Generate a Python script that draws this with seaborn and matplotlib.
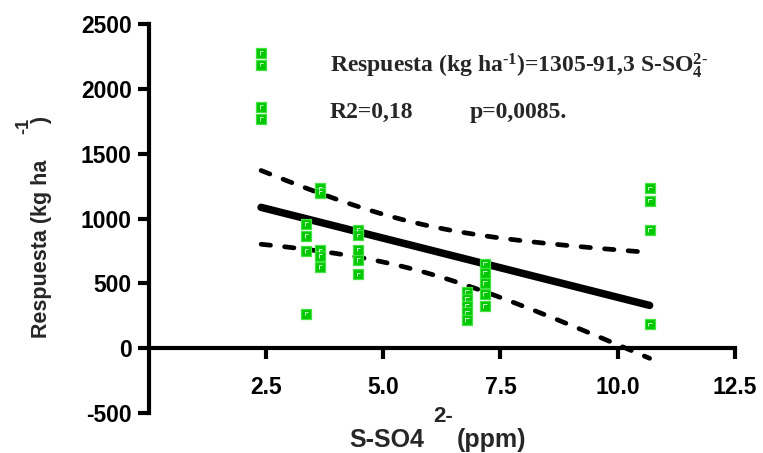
import numpy as np
import matplotlib
matplotlib.use("Agg")
import matplotlib.pyplot as plt
import seaborn as sns
from matplotlib.path import Path

sns.set_theme(style="white")
plt.rcParams["font.family"] = ["Liberation Sans", "DejaVu Sans"]
plt.rcParams["axes.unicode_minus"] = False
plt.rcParams["mathtext.fontset"] = "custom"
plt.rcParams["mathtext.rm"] = "Liberation Serif:bold"
plt.rcParams["mathtext.it"] = "Liberation Serif:bold"
plt.rcParams["mathtext.bf"] = "Liberation Serif:bold"

# ---- data ----
so4_ppm = [2.4, 2.4, 2.4, 2.4,
           3.36, 3.36, 3.36, 3.36,
           3.66, 3.66, 3.66, 3.66, 3.66,
           4.47, 4.47, 4.47, 4.47, 4.47,
           6.78, 6.78, 6.78, 6.78, 6.78,
           7.17, 7.17, 7.17, 7.17, 7.17,
           10.68, 10.68, 10.68, 10.68]
respuesta = [2275, 2186, 1861, 1769,
             958, 864, 749, 266,
             1232, 1200, 754, 711, 626,
             915, 870, 760, 680, 570,
             435, 378, 327, 276, 217,
             652, 583, 504, 419, 325,
             1232, 1137, 910, 184]
intercept = 1305.0
slope = -91.3
t_crit = 2.04

xticks = [2.5, 5.0, 7.5, 10.0, 12.5]
xtick_labels = ["2.5", "5.0", "7.5", "10.0", "12.5"]
yticks = [-500, 0, 500, 1000, 1500, 2000, 2500]
ytick_labels = ["-500", "0", "500", "1000", "1500", "2000", "2500"]

W, H = 763, 453
fig = plt.figure(figsize=(W / 100, H / 100), dpi=100)
ax = fig.add_axes([148.5 / W, (H - 413) / H, (735 - 148.5) / W, (413 - 24) / H])
ax.set_xlim(0, 12.5)
ax.set_ylim(-500, 2500)

x = np.asarray(so4_ppm, float)
y = np.asarray(respuesta, float)
n = len(x)
xs = np.linspace(x.min(), x.max(), 200)
fit = intercept + slope * xs
resid = y - (intercept + slope * x)
s = np.sqrt(np.sum(resid ** 2) / (n - 2))
sxx = np.sum((x - x.mean()) ** 2)
half = t_crit * s * np.sqrt(1 / n + (xs - x.mean()) ** 2 / sxx)

sns.lineplot(x=xs, y=fit, ax=ax, color="black", lw=5.4, solid_capstyle="round", zorder=2)
for band in (fit + half, fit - half):
    sns.lineplot(x=xs, y=band, ax=ax, color="black", lw=3.4,
                 linestyle=(0, (2.0, 3.0)), dash_capstyle="round", zorder=2)

sns.scatterplot(x=so4_ppm, y=respuesta, ax=ax, marker="s", s=50,
                color="#00c800", edgecolor="#44e044", linewidth=0.9, zorder=4)
glyph = Path([(1, 1), (-0.3, -0.35), (-0.3, 0.35), (0.4, 0.35)],
             [Path.MOVETO, Path.MOVETO, Path.LINETO, Path.LINETO])
ax.scatter(so4_ppm, respuesta, marker=glyph, s=50, facecolors="none",
           edgecolors="#c8f4c8", linewidths=0.7, zorder=5)

for side in ("top", "right"):
    ax.spines[side].set_visible(False)
ax.spines["bottom"].set_position(("data", 0))
for side in ("left", "bottom"):
    ax.spines[side].set_linewidth(3)
    ax.spines[side].set_color("black")

ax.set_xticks(xticks)
ax.set_xticklabels(xtick_labels)
ax.set_yticks(yticks)
ax.set_yticklabels(ytick_labels)
ax.tick_params(axis="both", direction="out", length=8, width=3, color="black",
               labelsize=16.5, labelcolor="black", pad=4)
ax.tick_params(axis="x", pad=12)
ax.tick_params(left=True, bottom=True)
for lab in ax.get_xticklabels() + ax.get_yticklabels():
    lab.set_fontweight("bold")
ax.grid(False)


def fx(px):
    return px / W


def fy(py):
    return 1 - py / H


# axis labels
fig.text(fx(42), fy(338), "Respuesta (kg ha", rotation=90, ha="center", va="bottom",
         fontsize=15.5, fontweight="bold")
fig.text(fx(42), fy(120), ")", rotation=90, ha="center", va="center",
         fontsize=15.5, fontweight="bold")
fig.text(fx(24), fy(126), "-1", rotation=90, ha="center", va="center",
         fontsize=13, fontweight="bold")

fig.text(fx(387), fy(440), "S-SO4", ha="center", va="center", fontsize=18, fontweight="bold")
fig.text(fx(443), fy(416), "2-", ha="center", va="center", fontsize=16, fontweight="bold")
fig.text(fx(492), fy(440), "(ppm)", ha="center", va="center", fontsize=18, fontweight="bold")

# annotation
fig.text(fx(330), fy(72), "Respuesta (kg ha$^{\u2010 1}$)=1305-91,3 S-SO$_4^{2\u2010}$",
         ha="left", va="baseline", fontsize=17, family="Liberation Serif", fontweight="bold")
fig.text(fx(330), fy(118), "R2=0,18", ha="left", va="baseline", fontsize=17,
         family="Liberation Serif", fontweight="bold")
fig.text(fx(470), fy(118), "p=0,0085.", ha="left", va="baseline", fontsize=17,
         family="Liberation Serif", fontweight="bold")

fig.savefig("out.png", dpi=100, facecolor="white")
